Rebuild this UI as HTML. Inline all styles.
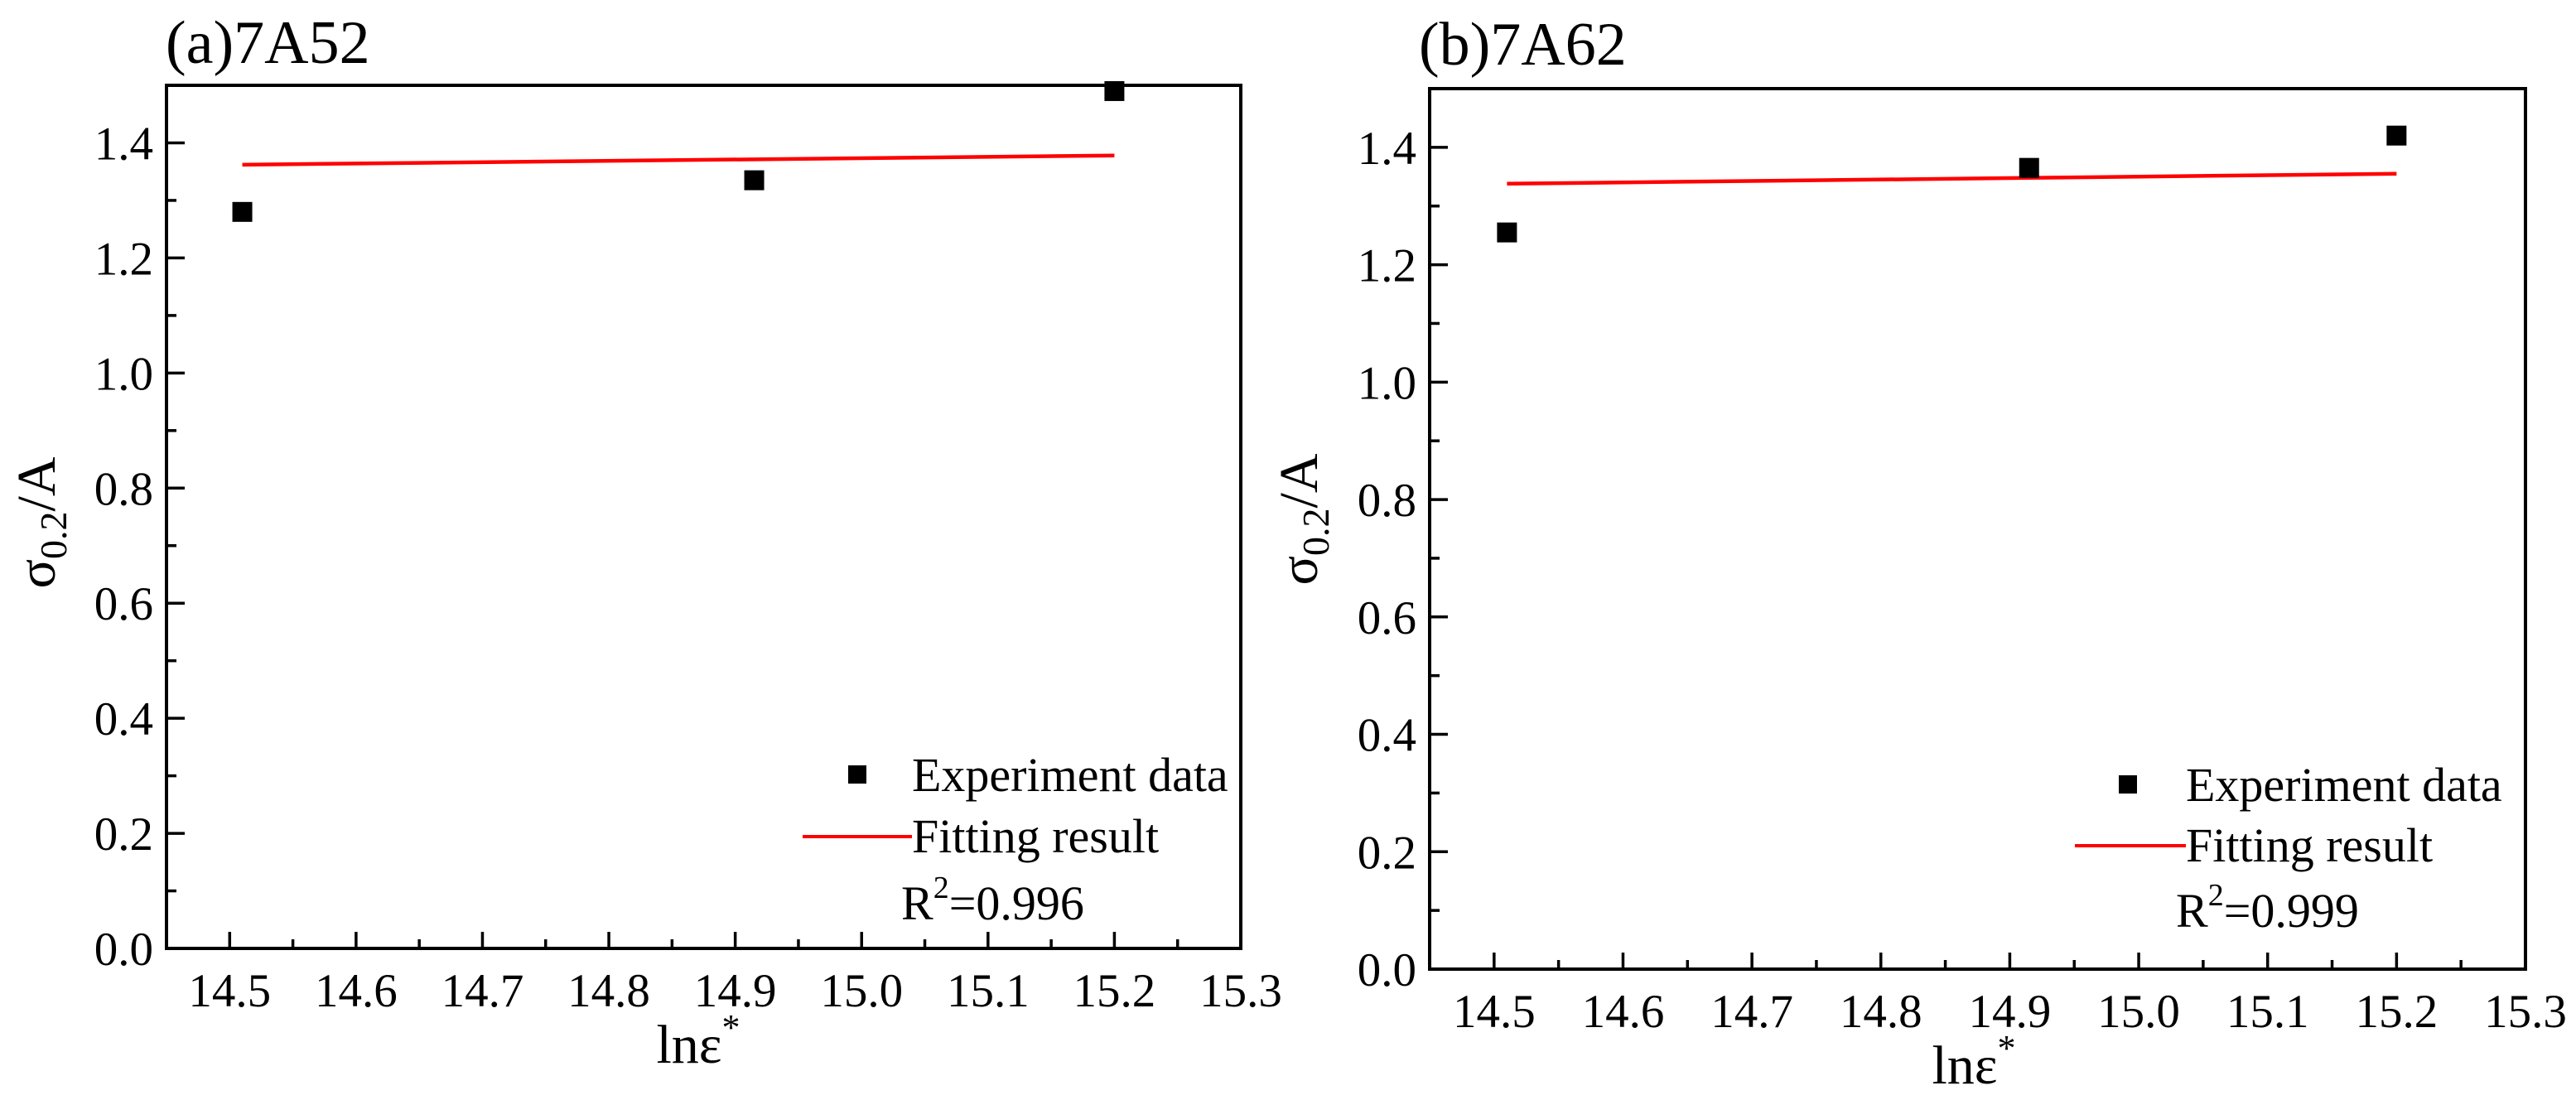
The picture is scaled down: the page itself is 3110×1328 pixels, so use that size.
<!DOCTYPE html>
<html><head><meta charset="utf-8">
<style>
html,body{margin:0;padding:0;background:#fff;}
svg{display:block;}
svg text{font-family:"Liberation Serif","DejaVu Serif",serif;}
</style></head>
<body>
<svg id="chart" width="3110" height="1328" viewBox="0 0 3110 1328" xmlns="http://www.w3.org/2000/svg" font-family="Liberation Serif, DejaVu Serif, serif"></svg>
<script>
// Panel (a) 7A52
const xA = [14.51, 14.915, 15.2];
const yA = [1.28, 1.335, 1.49];
const fitXA = [14.51, 15.2];
const fitYA = [1.362, 1.378];
// Panel (b) 7A62
const xB = [14.51, 14.915, 15.2];
const yB = [1.255, 1.365, 1.42];
const fitXB = [14.51, 15.2];
const fitYB = [1.338, 1.355];
const xTicks = ["14.5","14.6","14.7","14.8","14.9","15.0","15.1","15.2","15.3"];
const yTicks = ["0.0","0.2","0.4","0.6","0.8","1.0","1.2","1.4"];

const NS = "http://www.w3.org/2000/svg";
const FONT = '"Liberation Serif", "DejaVu Serif", serif';
const svg = document.getElementById('chart');
function mk(tag, attrs, parent, text){
  const e = document.createElementNS(NS, tag);
  for (const k in attrs) e.setAttribute(k, attrs[k]);
  if (tag === 'text') e.style.fontFamily = FONT;
  if (text !== undefined) e.textContent = text;
  parent.appendChild(e);
  return e;
}

function panel(cfg){
  const g = mk('g', {}, svg);
  
  
  const sx = v => cfg.x0 + (v - 14.45) / (15.3 - 14.45) * (cfg.x1 - cfg.x0);
  const sy = v => cfg.y1 - v / 1.5 * (cfg.y1 - cfg.y0);

  const t = mk('text', {x: cfg.titleX, y: cfg.titleY, 'font-size': 74}, g, cfg.title);
  
  

  for (let i = 0; i <= 15; i++){
    const v = i * 0.1, y = sy(v), major = i % 2 === 0;
    const l = mk('line', {x1: cfg.x0, x2: cfg.x0 + (major ? 22 : 12), y1: y, y2: y, stroke: '#000', 'stroke-width': 3.5}, g);
    
    
  }
  yTicks.forEach((lab, i) => {
    const tt = mk('text', {x: cfg.x0 - 16, y: sy(i * 0.2) + 20, 'font-size': 57, 'text-anchor': 'end'}, g, lab);
    
    
  });
  for (let i = 0; i <= 16; i++){
    const v = 14.5 + i * 0.05, x = sx(v), major = i % 2 === 0;
    const l = mk('line', {x1: x, x2: x, y1: cfg.y1, y2: cfg.y1 - (major ? 20 : 11), stroke: '#000', 'stroke-width': 3.5}, g);
    
    
  }
  xTicks.forEach((lab, i) => {
    const tt = mk('text', {x: sx(14.5 + i * 0.1), y: cfg.y1 + 70, 'font-size': 57, 'text-anchor': 'middle'}, g, lab);
    
    
  });
  const f = mk('rect', {x: cfg.x0, y: cfg.y0, width: cfg.x1 - cfg.x0, height: cfg.y1 - cfg.y0, fill: 'none', stroke: '#000', 'stroke-width': 4}, g);
  
  

  const fl = mk('line', {x1: sx(cfg.fx[0]), y1: sy(cfg.fy[0]), x2: sx(cfg.fx[1]), y2: sy(cfg.fy[1]), stroke: '#f00', 'stroke-width': 4.5}, g);
  
  
  cfg.px.forEach((xv, i) => {
    const r = mk('rect', {x: sx(xv) - 12, y: sy(cfg.py[i]) - 12, width: 24, height: 24, fill: '#000'}, g);
    
    
  });

  const yl = mk('text', {transform: `translate(${cfg.ylX},${cfg.ylY}) rotate(-90)`, 'font-size': 66, 'text-anchor': 'middle'}, g);
  
  
  mk('tspan', {}, yl, 'σ');
  mk('tspan', {'font-size': 46, dy: 14}, yl, '0.2');
  mk('tspan', {dy: -14}, yl, '/A');
  const xl = mk('text', {x: cfg.xlX, y: cfg.xlY, 'font-size': 66, 'text-anchor': 'middle'}, g);
  
  
  mk('tspan', {}, xl, 'lnε');
  mk('tspan', {'font-size': 44, dy: -28}, xl, '*');

  const lg = mk('g', {}, g);
  
  
  const lm = mk('rect', {x: cfg.lmX - 11, y: cfg.lmY - 11, width: 22, height: 22, fill: '#000'}, lg);
  
  
  const lt1 = mk('text', {x: cfg.ltX, y: cfg.lmY + 20, 'font-size': 58}, lg, 'Experiment data');
  
  
  const ll = mk('line', {x1: cfg.llX, x2: cfg.ltX, y1: cfg.llY, y2: cfg.llY, stroke: '#f00', 'stroke-width': 4}, lg);
  
  
  const lt2 = mk('text', {x: cfg.ltX, y: cfg.llY + 19, 'font-size': 58}, lg, 'Fitting result');
  
  
  const r2 = mk('text', {x: cfg.r2X, y: cfg.r2Y, 'font-size': 58}, lg);
  
  
  mk('tspan', {}, r2, 'R');
  mk('tspan', {'font-size': 38, dy: -26}, r2, '2');
  mk('tspan', {dy: 26}, r2, cfg.r2);
}

panel({name:'panel-a-7a52', title:'(a)7A52', titleX:200, titleY:76,
  x0:201, x1:1498, y0:103, y1:1145, px:xA, py:yA, fx:fitXA, fy:fitYA,
  ylX:66, ylY:631, xlX:843, xlY:1283,
  lmX:1035, lmY:935, ltX:1101, llX:969, llY:1010, r2X:1088, r2Y:1110, r2:'=0.996'});
panel({name:'panel-b-7a62', title:'(b)7A62', titleX:1713, titleY:78,
  x0:1726, x1:3049, y0:107, y1:1170, px:xB, py:yB, fx:fitXB, fy:fitYB,
  ylX:1590, ylY:627, xlX:2383, xlY:1308,
  lmX:2569, lmY:947, ltX:2639, llX:2505, llY:1021, r2X:2627, r2Y:1119, r2:'=0.999'});
</script>
</body></html>
